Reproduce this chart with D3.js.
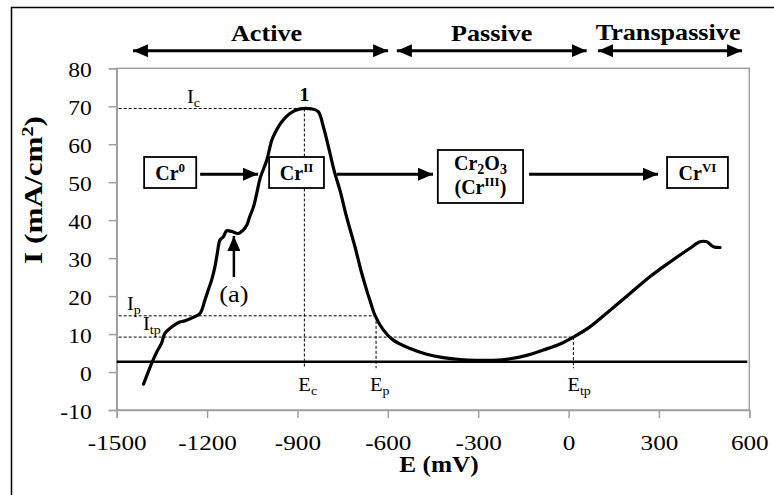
<!DOCTYPE html>
<html><head><meta charset="utf-8">
<script src="https://cdn.jsdelivr.net/npm/d3@7"></script>
<style>
body{margin:0;background:#fff}
text{font-family:"Liberation Serif","Times New Roman",serif;fill:#000}
</style>
</head><body>
<svg id="chart" width="774" height="495"></svg>
<script>
// ---------------- data ----------------
const potential = [-1411,-1384,-1367,-1351,-1340,-1323,-1296,-1273,-1246,-1223,-1207,-1196,-1185,-1174,-1166,-1157,-1146,-1135,-1118,-1096,-1080,-1068,-1058,-1046,-1035,-1024,-1002,-985,-975,-952,-925,-891,-853,-831,-814,-797,-778,-759,-737,-709,-690,-670,-655,-643,-615,-582,-526,-471,-416,-360,-305,-250,-194,-139,-84,-28,16,71,138,204,270,337,403,436,459,481,503];
const current   = [-3.2,2.3,5.3,7.6,10.2,11.5,13.0,13.5,14.4,15.5,19.0,21.6,24.2,27.7,31.3,34.8,35.6,37.2,37.0,36.5,37.4,38.7,41.0,43.5,47.1,51.0,55.8,61.1,62.9,65.9,68.1,69.3,69.3,68.6,64.6,59.3,53.0,47.9,40.9,33.0,27.0,21.5,17.8,15.0,11.1,8.4,6.2,4.7,3.8,3.3,3.1,3.1,3.5,4.4,5.8,7.4,9.2,11.9,16.3,20.7,25.1,29.0,32.6,34.3,34.3,33.0,32.8];
const xTickValues = [-1500,-1200,-900,-600,-300,0,300,600];
const yTickValues = [-10,0,10,20,30,40,50,60,70,80];
const baselineCurrent = 2.7;
// characteristic points [E, I]
const pointNames = ["c","p","tp"];
const pointE = [-877,-639,16];
const pointI = [69.4,14.8,9.2];
// regions
const regionNames = ["Active","Passive","Transpassive"];
const regionStart = [-1446,-570,98];
const regionEnd   = [-599,60,576];
// species boxes
const speciesNames = [["Cr","0"],["Cr","II"],["Cr2O3","III"],["Cr","VI"]];
const speciesE0 = [-1409,-994,-434,327];
const speciesE1 = [-1236,-812,-151,529];

// ---------------- layout ----------------
const svg = d3.select("#chart");
const L = 116.7, R = 749.3, T = 68.3, B = 410;
const x = d3.scaleLinear().domain([-1500,600]).range([L,R]);
const y = d3.scaleLinear().domain([-10,80]).range([B,T]);

// text placed at (px,py) with horizontal stretch sx
function sText(px, py, sx, fs, anchor, weight){
  return svg.append("text").attr("transform",`translate(${px},${py}) scale(${sx},1)`)
    .attr("font-size",fs).attr("text-anchor",anchor||"start").attr("font-weight",weight||"normal");
}

// defs: arrow heads
const defs = svg.append("defs");
function marker(id, w, h){
  defs.append("marker").attr("id",id).attr("viewBox",`0 0 ${w} ${h}`)
    .attr("refX",w).attr("refY",h/2).attr("markerWidth",w).attr("markerHeight",h)
    .attr("markerUnits","userSpaceOnUse").attr("orient","auto-start-reverse")
    .append("path").attr("d",`M0,0L${w},${h/2}L0,${h}Z`).attr("fill","#000");
}
marker("headBig",15,13);
marker("headMid",15,13);

// outer frame
svg.append("rect").attr("x",11.5).attr("y",7.5).attr("width",900).attr("height",700)
  .attr("fill","none").attr("stroke","#000").attr("stroke-width",1.5);

// plot area outline
svg.append("rect").attr("x",L).attr("y",T).attr("width",R-L).attr("height",B-T)
  .attr("fill","none").attr("stroke","#a0a0a0").attr("stroke-width",1.5);

// axes
const xAxis = d3.axisBottom(x).tickValues(xTickValues).tickSize(8).tickFormat(d=>d);
const gx = svg.append("g").attr("transform",`translate(0,${B})`).call(xAxis);
gx.select(".domain").attr("stroke","#a0a0a0").attr("stroke-width",1.5);
gx.selectAll(".tick line").attr("stroke","#a0a0a0").attr("stroke-width",1.5);
gx.selectAll(".tick text").attr("font-size",21).attr("font-family","Liberation Serif").attr("fill","#000")
  .attr("y",0).attr("dy",0).attr("transform","translate(0,40) scale(1.2,1)");

const yAxis = d3.axisLeft(y).tickValues(yTickValues).tickSize(8).tickFormat(d=>d);
const gy = svg.append("g").attr("transform",`translate(${L},0)`).call(yAxis);
gy.select(".domain").attr("stroke","#a0a0a0").attr("stroke-width",1.5);
gy.selectAll(".tick line").attr("stroke","#a0a0a0").attr("stroke-width",1.5);
gy.selectAll(".tick text").attr("font-size",21).attr("font-family","Liberation Serif").attr("fill","#000")
  .attr("x",0).attr("dy",0).attr("transform","translate(-25,8.5) scale(1.12,1)");

// axis titles
sText(439, 472, 1.1, 23, "middle", "bold").text("E (mV)");
const yt = svg.append("text").attr("transform","translate(42,190) rotate(-90) scale(1.25,1)")
  .attr("text-anchor","middle").attr("font-size",25).attr("font-weight","bold");
yt.append("tspan").text("I (mA/cm");
yt.append("tspan").attr("font-size",16).attr("dy",-9).text("2");
yt.append("tspan").attr("dy",9).text(")");

// dashed guide lines
const dash = svg.append("g").attr("stroke","#000").attr("stroke-width",1).attr("stroke-dasharray","3,2").attr("fill","none");
pointE.forEach((e,i)=>{
  dash.append("line").attr("x1",L+2).attr("x2",x(e)).attr("y1",y(pointI[i])).attr("y2",y(pointI[i]));
  dash.append("line").attr("x1",x(e)).attr("x2",x(e)).attr("y1",y(pointI[i])).attr("y2",y(1.0));
});

// horizontal baseline
svg.append("line").attr("x1",L).attr("x2",R-2).attr("y1",y(baselineCurrent)).attr("y2",y(baselineCurrent))
  .attr("stroke","#000").attr("stroke-width",2.5);

// curve
const pts = potential.map((e,i)=>[e,current[i]]);
svg.append("path").datum(pts)
  .attr("d",d3.line().x(d=>x(d[0])).y(d=>y(d[1])).curve(d3.curveCatmullRom.alpha(0.5)))
  .attr("fill","none").attr("stroke","#000").attr("stroke-width",3.2).attr("stroke-linejoin","round").attr("stroke-linecap","round");

// subscript helper
function subText(px, py, main, sub, fs, sfs, anchor, weight){
  const t = sText(px, py, 1.08, fs, anchor, weight);
  t.append("tspan").text(main);
  t.append("tspan").attr("font-size",sfs).attr("dy",4).text(sub);
  return t;
}
// I labels
subText(x(-1267), y(pointI[0])-5.5, "I", pointNames[0], 19, 13);
subText(x(-1466), y(pointI[1])-6, "I", pointNames[1], 19, 13);
subText(x(-1413), y(pointI[2])-7, "I", pointNames[2], 19, 13);
// E labels
pointE.forEach((e,i)=> subText(x(e)-6, 391, "E", pointNames[i], 19, 13));

// peak label "1"
sText(x(pointE[0]), y(pointI[0])-8, 1.08, 19, "middle", "bold").text("1");

// (a) arrow
svg.append("line").attr("x1",x(-1111)).attr("x2",x(-1111)).attr("y1",277).attr("y2",236)
  .attr("stroke","#000").attr("stroke-width",2.5).attr("marker-end","url(#headMid)");
sText(x(-1111), 302, 1.1, 24, "middle").text("(a)");

// regions
regionNames.forEach((n,i)=>{
  svg.append("line").attr("x1",x(regionStart[i])).attr("x2",x(regionEnd[i]))
    .attr("y1",50.7).attr("y2",50.7).attr("stroke","#000").attr("stroke-width",3)
    .attr("marker-start","url(#headBig)").attr("marker-end","url(#headBig)");
  sText((x(regionStart[i])+x(regionEnd[i]))/2 + (i===2?-2:(i===0?6:0)), i===2?39.5:41, 1.09, 24, "middle", "bold").text(n);
});

// species boxes
const boxY0 = [157,157,150,157], boxY1 = [188,188,203,188];
speciesNames.forEach((s,i)=>{
  const x0 = x(speciesE0[i]), x1 = x(speciesE1[i]), cx = (x0+x1)/2;
  svg.append("rect").attr("x",x0).attr("y",boxY0[i]).attr("width",x1-x0).attr("height",boxY1[i]-boxY0[i])
    .attr("fill","#fff").attr("stroke","#000").attr("stroke-width",1.8);
  if(i===2){
    const t1 = svg.append("text").attr("x",cx).attr("y",170).attr("text-anchor","middle").attr("font-size",20).attr("font-weight","bold");
    t1.append("tspan").text("Cr");
    t1.append("tspan").attr("font-size",14).attr("dy",4).text("2");
    t1.append("tspan").attr("dy",-4).text("O");
    t1.append("tspan").attr("font-size",14).attr("dy",4).text("3");
    const t2 = svg.append("text").attr("x",cx).attr("y",194).attr("text-anchor","middle").attr("font-size",20).attr("font-weight","bold");
    t2.append("tspan").text("(Cr");
    t2.append("tspan").attr("font-size",13).attr("dy",-8).text(s[1]);
    t2.append("tspan").attr("dy",8).text(")");
  } else {
    const t = svg.append("text").attr("x",cx).attr("y",180).attr("text-anchor","middle").attr("font-size",20).attr("font-weight","bold");
    t.append("tspan").text(s[0]);
    t.append("tspan").attr("font-size",13).attr("dy",-8).text(s[1]);
  }
});
// arrows between species
const linkE0 = [-1223,-769,-131], linkE1 = [-1031,-450,297];
linkE0.forEach((e,i)=>{
  svg.append("line").attr("x1",x(e)).attr("x2",x(linkE1[i])).attr("y1",y(52.1)).attr("y2",y(52.1))
    .attr("stroke","#000").attr("stroke-width",3).attr("marker-end","url(#headMid)");
});
</script>
</body></html>
